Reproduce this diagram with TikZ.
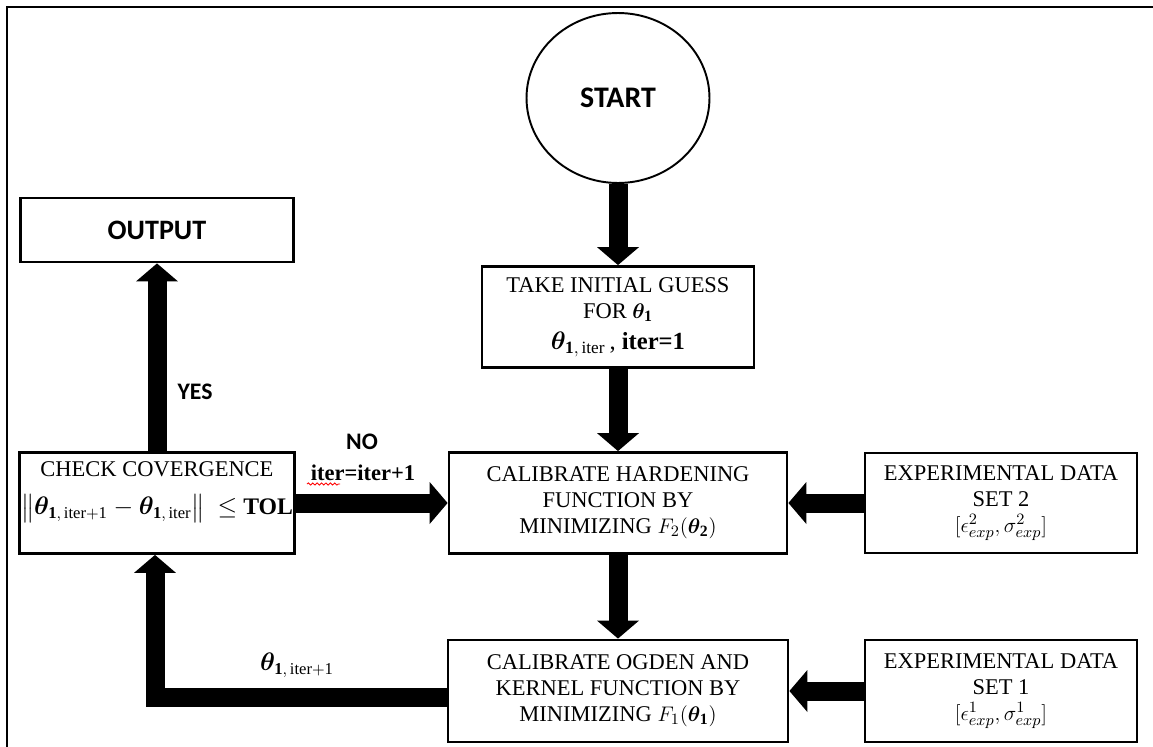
\documentclass[tikz,border=0pt]{standalone}
\usepackage{fontspec}
\usepackage{amsmath,amssymb}
\usepackage{bm}
\setmainfont{Liberation Serif}
\newfontfamily\calib{Carlito}
\usetikzlibrary{arrows.meta,shapes.geometric,decorations.pathmorphing}

\begin{document}
\begin{tikzpicture}[x=0.02cm, y=-0.02cm,
    procbox/.style={draw, line width=1.6pt, align=center, inner sep=2pt,
      font=\fontsize{12.8}{14.8}\selectfont},
    fatarrow/.style={line width=0.38cm, -{Triangle[width=0.82cm,length=0.36cm]}},
    boldsans/.style={font=\calib\bfseries\fontsize{13.5}{16}\selectfont}]
    \useasboundingbox (0,0) rectangle (1153,747);
    % frame
    \draw[line width=0.06cm] (7,747) -- (7,7) -- (1153,7);
    % main column
    \node[ellipse, draw, line width=1.1pt, minimum width=3.66cm, minimum height=3.4cm,
      font=\calib\bfseries\fontsize{17}{20}\selectfont] (start) at (618,98) {START};
    \node[procbox, minimum width=5.44cm, minimum height=2.02cm] (guess) at (618,317)
      {TAKE INITIAL GUESS\\ FOR $\bm{\theta}_{\mathbf{1}}$\\[3pt]
       {\fontsize{14}{16}\selectfont$\bm{\theta}_{\mathbf{1},\,\mathrm{iter}}$\,,\ \textbf{iter=1}}};
    \node[procbox, minimum width=6.76cm, minimum height=2.02cm] (harden) at (618,503)
      {CALIBRATE HARDENING\\ FUNCTION BY\\ MINIMIZING $F_2(\bm{\theta}_{\mathbf{2}})$};
    \node[procbox, minimum width=6.8cm, minimum height=2.04cm] (ogden) at (618,691)
      {CALIBRATE OGDEN AND\\ KERNEL FUNCTION BY\\ MINIMIZING $F_1(\bm{\theta}_{\mathbf{1}})$};
    % data sets
    \node[procbox, minimum width=5.44cm, minimum height=2.0cm] (dataA) at (1001,503)
      {EXPERIMENTAL DATA\\ SET 2\\ $[\epsilon^2_{exp},\sigma^2_{exp}]$};
    \node[procbox, minimum width=5.44cm, minimum height=2.04cm] (dataB) at (1001,691)
      {EXPERIMENTAL DATA\\ SET 1\\ $[\epsilon^1_{exp},\sigma^1_{exp}]$};
    % convergence and output
    \node[procbox, minimum width=5.4cm, minimum height=2.02cm, inner sep=1pt] (check) at (157,503)
      {CHECK COVERGENCE\\[7pt]
       {\fontsize{13.5}{16}\selectfont$\bigl\|\bm{\theta}_{\mathbf{1},\,\mathrm{iter+1}}-\bm{\theta}_{\mathbf{1},\,\mathrm{iter}}\bigr\|\ \le\ $\textbf{TOL}}\\[2pt] \mbox{}};
    \node[procbox, minimum width=5.46cm, minimum height=1.28cm,
      font=\calib\bfseries\fontsize{16}{19}\selectfont] (output) at (157,230) {OUTPUT};
    % arrows
    \draw[fatarrow] (start) -- (guess);
    \draw[fatarrow] (guess) -- (harden);
    \draw[fatarrow] (harden) -- (ogden);
    \draw[fatarrow] (dataA) -- (harden);
    \draw[fatarrow] (dataB) -- (ogden);
    \draw[fatarrow] (check) -- (harden);
    \draw[fatarrow] (check) -- (output);
    \coordinate (bend) at (155,697);
    \draw[fatarrow] (ogden.west |- bend) -- (bend) -- (bend |- check.south);
    % labels
    \node[boldsans] (no) at (362,442) {NO};
    \node[font=\bfseries\fontsize{12.8}{15}\selectfont] (iterlbl) at (363,473) {iter=iter+1};
    \draw[red, line width=0.5pt, decorate, decoration={snake, amplitude=0.6pt, segment length=2.5pt}]
      (307,484) -- (340,484);
    \node[boldsans] (yes) at (195,392) {YES};
    \node[font=\fontsize{13.5}{15}\selectfont] (thetalbl) at (297,665)
      {$\bm{\theta}_{\mathbf{1},\,\mathrm{iter+1}}$};
  \end{tikzpicture}
\end{document}
